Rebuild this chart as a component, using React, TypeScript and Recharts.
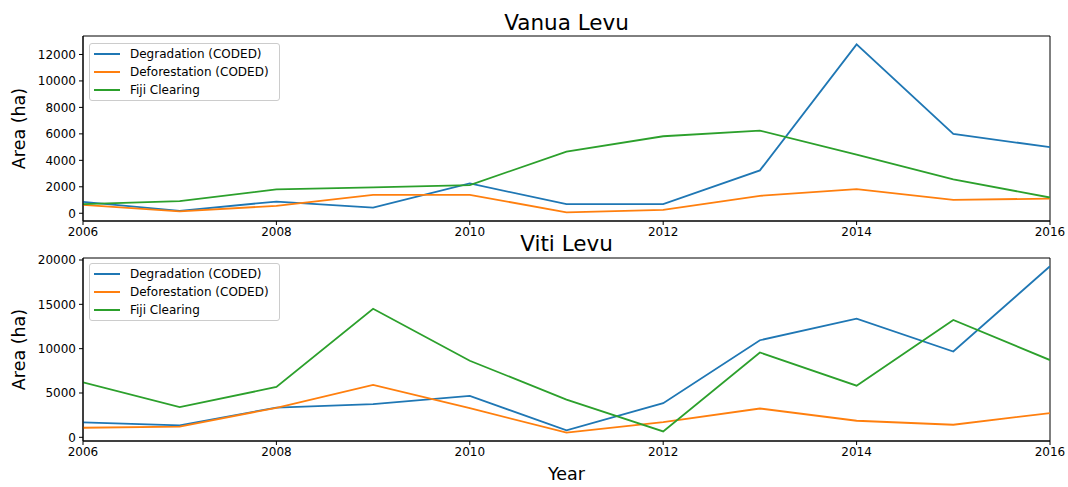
import React from "react";
import { LineChart, Line, XAxis, YAxis, ReferenceArea, Legend } from "recharts";

const years = [2006, 2007, 2008, 2009, 2010, 2011, 2012, 2013, 2014, 2015, 2016];
const xTicks = [2006, 2008, 2010, 2012, 2014, 2016];

const vanuaDegradation = [861, 180, 886, 430, 2250, 690, 690, 3240, 12760, 6000, 4990];
const vanuaDeforestation = [630, 140, 560, 1390, 1390, 70, 250, 1320, 1820, 1010, 1110];
const vanuaFijiClearing = [690, 910, 1800, 1950, 2130, 4660, 5820, 6250, 4430, 2560, 1190];

const vitiDegradation = [1680, 1350, 3360, 3740, 4670, 790, 3850, 10950, 13380, 9680, 19290];
const vitiDeforestation = [1080, 1200, 3330, 5910, 3290, 520, 1720, 3250, 1870, 1420, 2730];
const vitiFijiClearing = [6200, 3400, 5680, 14500, 8640, 4260, 670, 9570, 5830, 13230, 8710];

const vanuaTicks = [0, 2000, 4000, 6000, 8000, 10000, 12000];
const vitiTicks = [0, 5000, 10000, 15000, 20000];
const vanuaDomain: [number, number] = [-585, 13396];
const vitiDomain: [number, number] = [-415, 20226];

const seriesKeys = ["deg", "def", "fc"];
const seriesNames = ["Degradation (CODED)", "Deforestation (CODED)", "Fiji Clearing"];
const colors = ["#1f77b4", "#ff7f0e", "#2ca02c"];

const FONT = "'DejaVu Sans', sans-serif";

function buildRows(a: number[], b: number[], c: number[]) {
  return years.map((y, i) => ({ year: y, deg: a[i], def: b[i], fc: c[i] }));
}

const vanuaData = buildRows(vanuaDegradation, vanuaDeforestation, vanuaFijiClearing);
const vitiData = buildRows(vitiDegradation, vitiDeforestation, vitiFijiClearing);

const LegendBox = () => {
  return (
    <div
      style={{
        border: "1px solid #cccccc",
        borderRadius: 3,
        background: "rgba(255,255,255,0.8)",
        padding: "1px 10px 1px 4px",
        fontFamily: FONT,
        fontSize: 12,
        color: "#000",
        display: "inline-block",
      }}
    >
      {seriesNames.map((name, i) => (
        <div key={i} style={{ display: "flex", alignItems: "center", height: 18 }}>
          <div style={{ width: 26, height: 2, background: colors[i], marginRight: 10 }} />
          <span style={{ whiteSpace: "nowrap" }}>{name}</span>
        </div>
      ))}
    </div>
  );
};

function Panel(props: {
  data: any[];
  domain: [number, number];
  ticks: number[];
  height: number;
  marginTop: number;
  marginBottom: number;
  legendTop: number;
}) {
  const { data, domain, ticks, height, marginTop, marginBottom, legendTop } = props;
  const tickStyle = { fontSize: 12, fontFamily: FONT, fill: "#000" };
  return (
    <LineChart
      width={1068}
      height={height}
      data={data}
      margin={{ top: marginTop, right: 18, left: 0, bottom: marginBottom }}
    >
      <XAxis
        dataKey="year"
        type="number"
        domain={[2006, 2016]}
        ticks={xTicks}
        interval={0}
        allowDataOverflow
        height={24}
        tick={tickStyle}
        tickSize={4}
        tickMargin={2}
        tickLine={{ stroke: "#000" }}
        axisLine={{ stroke: "#000" }}
      />
      <YAxis
        type="number"
        domain={domain}
        ticks={ticks}
        interval={0}
        allowDataOverflow
        width={83}
        tick={tickStyle}
        tickSize={4}
        tickMargin={3}
        tickLine={{ stroke: "#000" }}
        axisLine={{ stroke: "#000" }}
      />
      <ReferenceArea
        x1={2006}
        x2={2016}
        y1={domain[0]}
        y2={domain[1]}
        fill="none"
        fillOpacity={0}
        stroke="#000"
        strokeWidth={1}
      />
      {seriesKeys.map((k, i) => (
        <Line
          key={k}
          type="linear"
          dataKey={k}
          name={seriesNames[i]}
          stroke={colors[i]}
          strokeWidth={1.8}
          dot={false}
          isAnimationActive={false}
        />
      ))}
      <Legend
        content={<LegendBox />}
        layout="horizontal"
        verticalAlign="middle"
        align="center"
        wrapperStyle={{ position: "absolute", left: 89, top: legendTop, width: "auto", height: "auto" }}
      />
    </LineChart>
  );
}

export default function App() {
  return (
    <div
      style={{
        position: "absolute",
        left: 0,
        top: 0,
        width: 1068,
        height: 487,
        background: "#fff",
        overflow: "hidden",
      }}
    >
      <div style={{ position: "absolute", left: 0, top: 0 }}>
        <Panel data={vanuaData} domain={vanuaDomain} ticks={vanuaTicks} height={245} marginTop={36} marginBottom={0} legendTop={43} />
      </div>
      <div style={{ position: "absolute", left: 0, top: 245 }}>
        <Panel data={vitiData} domain={vitiDomain} ticks={vitiTicks} height={242} marginTop={13} marginBottom={22} legendTop={18} />
      </div>
      <svg
        width={1068}
        height={487}
        style={{ position: "absolute", left: 0, top: 0, pointerEvents: "none" }}
      >
        <text x={566.5} y={30} textAnchor="middle" fontFamily={FONT} fontSize={21.5} fill="#000">
          Vanua Levu
        </text>
        <text x={566.5} y={251} textAnchor="middle" fontFamily={FONT} fontSize={21.5} fill="#000">
          Viti Levu
        </text>
        <text x={566.5} y={480} textAnchor="middle" fontFamily={FONT} fontSize={17.5} fill="#000">
          Year
        </text>
        <text
          x={0}
          y={0}
          transform="translate(25,128.5) rotate(-90)"
          textAnchor="middle"
          fontFamily={FONT}
          fontSize={17.5}
          fill="#000"
        >
          Area (ha)
        </text>
        <text
          x={0}
          y={0}
          transform="translate(25,349.5) rotate(-90)"
          textAnchor="middle"
          fontFamily={FONT}
          fontSize={17.5}
          fill="#000"
        >
          Area (ha)
        </text>
      </svg>
    </div>
  );
}
